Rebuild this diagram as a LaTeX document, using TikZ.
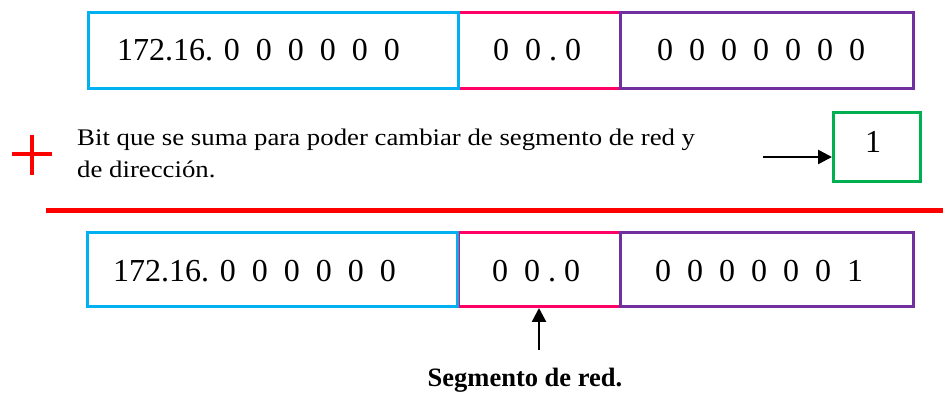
\documentclass[tikz,border=0pt]{standalone}
\usepackage{fontspec}
\setmainfont{Liberation Serif}
\newfontfamily\widefont[FakeStretch=1.125]{Liberation Serif}
\usetikzlibrary{arrows.meta}
\definecolor{cyanb}{HTML}{00B0F0}
\definecolor{pinkb}{HTML}{FF0066}
\definecolor{purpb}{HTML}{7030A0}
\definecolor{greenb}{HTML}{00B050}
\definecolor{redb}{HTML}{FF0000}
\newcommand\gapp{\hspace{16pt}}
\tikzset{
  seg/.style={draw=#1, line width=3pt, rectangle, inner sep=0pt},
  num/.style={anchor=base west, inner sep=0pt, font=\fontsize{32}{38}\selectfont},
  para/.style={anchor=base west, inner sep=0pt, font=\widefont\fontsize{23.8}{32}\selectfont},
  arr/.style={line width=2.5pt, -{Triangle[length=14pt,width=14pt]}}
}
\begin{document}
\begin{tikzpicture}[x=1pt,y=-1pt]
\useasboundingbox (0,0) rectangle (943,395);
% top row
\node[seg=pinkb, minimum width=162pt, minimum height=76pt] (pinkT) at (539,50.5) {};
\node[seg=cyanb, minimum width=370pt, minimum height=76pt] (cyanT) at (273,50.5) {};
\node[seg=purpb, minimum width=293pt, minimum height=76pt] (purpT) at (766.5,50.5) {};
\node[num] (cyanTt) at (117,60.7) {172.16. 0\gapp0\gapp0\gapp0\gapp0\gapp0};
\node[num] (pinkTt) at (493,60.7) {0\gapp0\hspace{8pt}.\hspace{8pt}0};
\node[num] (purpTt) at (657,60.7) {0\gapp0\gapp0\gapp0\gapp0\gapp0\gapp0};
% plus sign
\draw[redb, line width=4pt] (12,154) -- (52,154) (32,135) -- (32,175);
% explanation
\node[para] (line1) at (77,145.7) {Bit que se suma para poder cambiar de segmento de red y};
\node[para] (line2) at (77,177.7) {de dirección.};
% green box
\node[seg=greenb, minimum width=87pt, minimum height=69pt] (bit) at (877,147) {};
\node[num] (bitt) at (865,153) {1};
\coordinate (arrstart) at (763,157);
\draw[arr] (arrstart) -- (bit.west |- arrstart);
% red line
\draw[redb, line width=5pt] (46,210.5) -- (943,210.5);
% bottom row
\node[seg=pinkb, minimum width=162pt, minimum height=74pt] (pinkB) at (539,269.5) {};
\node[seg=cyanb, minimum width=370pt, minimum height=74pt] (cyanB) at (272,269.5) {};
\node[seg=purpb, minimum width=293pt, minimum height=74pt] (purpB) at (766.5,269.5) {};
\node[num] (cyanBt) at (113,281.7) {172.16. 0\gapp0\gapp0\gapp0\gapp0\gapp0};
\node[num] (pinkBt) at (492,281.7) {0\gapp0\hspace{8pt}.\hspace{8pt}0};
\node[num] (purpBt) at (655,281.7) {0\gapp0\gapp0\gapp0\gapp0\gapp0\gapp1};
% segment arrow
\coordinate (segstart) at (539,350);
\draw[arr] (segstart) -- (pinkB.south);
\node[anchor=base, inner sep=0pt, font=\bfseries\fontsize{26.5}{32}\selectfont] (seglabel) at (525,387) {Segmento de red.};
\end{tikzpicture}
\end{document}
